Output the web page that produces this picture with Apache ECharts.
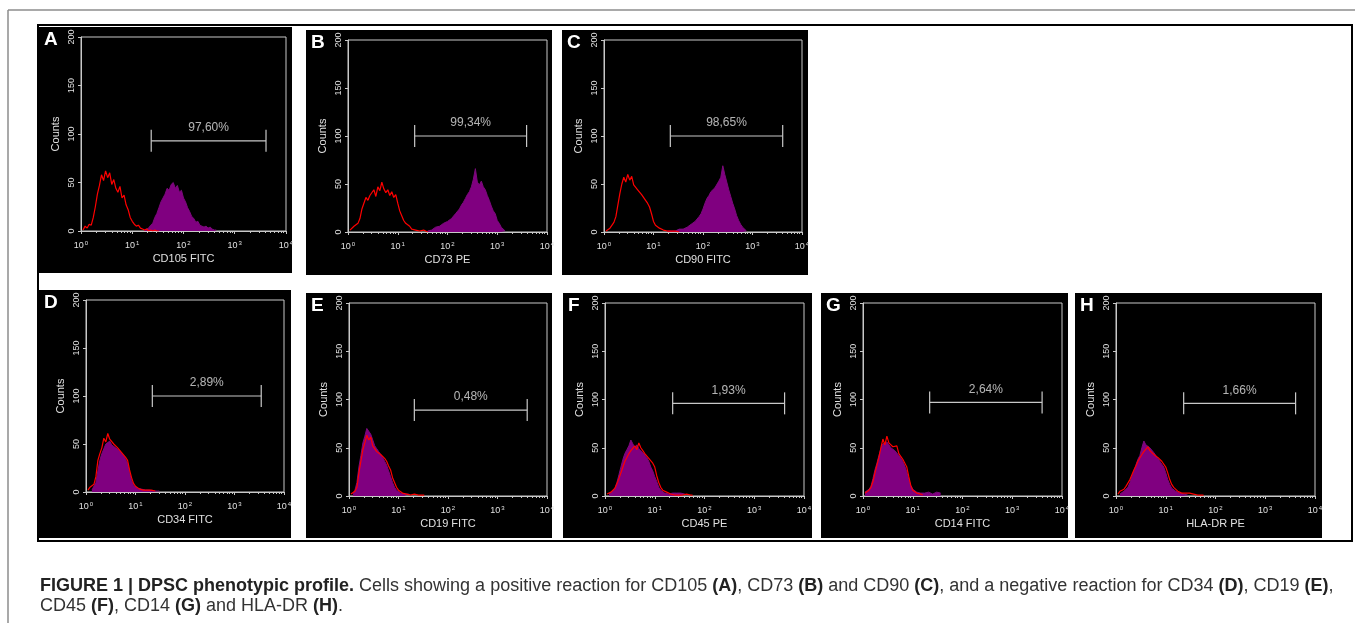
<!DOCTYPE html>
<html>
<head>
<meta charset="utf-8">
<title>DPSC phenotypic profile</title>
<script src="https://cdn.jsdelivr.net/npm/echarts@6/dist/echarts.min.js"></script>
<style>
   html, body { margin: 0; padding: 0; background: #fff; }
   #chart { width: 1355px; height: 623px; }
</style>
</head>
<body>
<div id="chart"></div>
<script>
// histogram channels are 0.04 decade wide, "from" = log10 of first channel
var binStep = 0.04;

var panelLetters = ["A", "B", "C", "D", "E", "F", "G", "H"];
var markerNames = ["CD105 FITC", "CD73 PE", "CD90 FITC", "CD34 FITC", "CD19 FITC", "CD45 PE", "CD14 FITC", "HLA-DR PE"];
var gateLabels = ["97,60%", "99,34%", "98,65%", "2,89%", "0,48%", "1,93%", "2,64%", "1,66%"];
var gateFrom = [1.37, 1.34, 1.34, 1.34, 1.32, 1.36, 1.34, 1.36];   // log10
var gateTo = [3.61, 3.59, 3.61, 3.54, 3.60, 3.61, 3.60, 3.61];     // log10
var gateLevel = [93, 100, 100, 100, 89, 96, 97, 96];                // counts

// isotype control (red outline)
var redA = {from: 0.04, counts: [1, 5, 3, 7, 6, 14, 25, 38, 47, 58, 52, 62, 55, 60, 48, 53, 44, 40, 46, 34, 37, 27, 22, 14, 10, 7, 5, 6, 3, 2, 1, 2, 0, 1, 0, 1, 0, 0]};
var redB = {from: 0.04, counts: [2, 3, 6, 5, 9, 14, 24, 30, 36, 33, 38, 40, 44, 37, 47, 43, 52, 45, 41, 44, 38, 42, 36, 39, 30, 22, 17, 12, 9, 7, 6, 3, 4, 2, 3, 1, 3, 2, 1, 0]};
var redC = {from: 0.04, counts: [1, 3, 4, 6, 10, 16, 28, 40, 50, 57, 52, 60, 54, 58, 49, 51, 44, 46, 39, 41, 33, 30, 26, 19, 11, 7, 5, 4, 3, 2, 2, 1, 2, 1, 0, 1, 1, 0]};
var redD = {from: 0.04, counts: [2, 5, 4, 8, 16, 33, 40, 46, 56, 52, 61, 55, 57, 50, 52, 46, 48, 41, 43, 36, 33, 23, 15, 9, 6, 5, 3, 4, 2, 1, 2, 1, 2, 3, 1]};
var redE = {from: 0.04, counts: [2, 3, 5, 9, 24, 36, 48, 55, 63, 58, 61, 52, 50, 46, 48, 43, 45, 39, 36, 31, 27, 19, 14, 9, 6, 4, 3, 3, 2, 3, 1, 2, 2, 1, 1, 0, 1, 1]};
var redF = {from: 0.04, counts: [2, 3, 4, 6, 8, 13, 18, 24, 30, 36, 40, 44, 47, 45, 52, 48, 55, 50, 47, 44, 42, 39, 41, 34, 30, 21, 14, 9, 6, 5, 4, 3, 2, 2, 1, 2, 1, 2, 1, 2, 2, 1, 1, 1]};
var redG = {from: 0.04, counts: [3, 4, 6, 9, 15, 24, 32, 40, 50, 59, 53, 62, 55, 57, 51, 49, 52, 44, 43, 38, 40, 30, 20, 11, 6, 4, 3, 2, 2, 1]};
var redH = {from: 0.04, counts: [2, 5, 4, 7, 10, 12, 17, 22, 27, 31, 36, 34, 43, 46, 44, 51, 47, 49, 43, 45, 40, 42, 36, 38, 30, 24, 17, 12, 9, 7, 5, 4, 3, 4, 3, 2, 3, 3, 2, 1, 1, 2, 1, 1]};

// stained sample (purple fill)
var purpleA = {from: 1.24, counts: [1, 2, 3, 6, 8, 14, 18, 24, 30, 34, 38, 44, 42, 48, 50, 44, 47, 40, 42, 34, 30, 24, 20, 15, 13, 9, 10, 6, 5, 4, 5, 3, 4, 2, 1, 1]};
var purpleB = {from: 1.60, counts: [1, 3, 2, 4, 5, 4, 6, 7, 9, 8, 11, 10, 14, 16, 19, 21, 24, 28, 31, 35, 39, 42, 47, 55, 66, 52, 49, 53, 47, 44, 38, 33, 27, 22, 19, 12, 9, 5, 3, 1]};
var purpleC = {from: 1.28, counts: [1, 2, 1, 2, 1, 2, 3, 2, 3, 4, 5, 6, 8, 9, 11, 13, 16, 19, 24, 30, 35, 38, 42, 40, 46, 48, 53, 57, 69, 60, 52, 44, 37, 30, 24, 17, 12, 8, 5, 3, 1]};
var purpleD = {from: 0.12, counts: [2, 4, 10, 22, 33, 40, 45, 50, 48, 53, 49, 51, 46, 48, 43, 41, 38, 40, 30, 20, 12, 7, 5, 4, 3, 3, 2, 2, 1, 2, 2, 1, 2, 1, 1]};
var purpleE = {from: 0.08, counts: [2, 6, 14, 30, 42, 55, 62, 70, 72, 64, 58, 52, 49, 46, 44, 40, 36, 32, 26, 20, 14, 9, 6, 4, 3, 2, 2, 1, 2, 1]};
var purpleF = {from: 0.08, counts: [2, 3, 5, 8, 14, 22, 30, 38, 44, 48, 52, 58, 54, 50, 53, 49, 47, 45, 44, 40, 36, 30, 26, 20, 15, 9, 6, 4, 3, 3, 2, 2, 3, 2, 3, 2, 3, 1, 2, 1]};
var purpleG = {from: 0.04, counts: [4, 5, 7, 10, 18, 27, 34, 42, 49, 54, 52, 56, 53, 50, 49, 47, 45, 42, 40, 36, 31, 25, 17, 11, 7, 5, 4, 3, 3, 4, 3, 2, 4, 3, 2, 3, 4, 2, 3]};
var purpleH = {from: 0.08, counts: [2, 3, 5, 7, 9, 14, 20, 26, 32, 38, 42, 50, 57, 53, 55, 50, 48, 45, 42, 39, 37, 33, 30, 24, 17, 12, 8, 6, 5, 4, 3, 3, 2, 2, 1]};

var redSets = [redA, redB, redC, redD, redE, redF, redG, redH];
var purpleSets = [purpleA, purpleB, purpleC, purpleD, purpleE, purpleF, purpleG, purpleH];

// layout: black panel boxes and plot areas, [x, y, w, h]
var boxes = [
   [39, 27, 253, 246], [306, 30, 246, 245], [562, 30, 246, 245],
   [39, 290, 252, 248], [306, 293, 246, 245], [563, 293, 249, 245], [821, 293, 247, 245], [1075, 293, 247, 245]
];
var plots = [
   [81, 37, 205, 194], [348, 40, 199, 192], [604, 40, 198, 192],
   [86, 300, 198, 192], [349, 303, 198, 193], [605, 303, 199, 193], [863, 303, 199, 193], [1116, 303, 199, 193]
];

var axisGray = "#c8c8c8";
var textGray = "#e0e0e0";
var font = "Liberation Sans, Arial, sans-serif";

function toPoints(h) {
   return h.counts.map(function (c, i) {
      return [Math.pow(10, h.from + i * binStep), c];
   });
}

var chart = echarts.init(document.getElementById("chart"), null, {renderer: "canvas"});

var graphic = [];
// page rule and figure frame
graphic.push({type: "line", shape: {x1: 8, y1: 10, x2: 1355, y2: 10}, style: {stroke: "#8c8c8c", lineWidth: 1.5}, z: 0});
graphic.push({type: "line", shape: {x1: 8, y1: 10, x2: 8, y2: 623}, style: {stroke: "#8c8c8c", lineWidth: 1.5}, z: 0});
graphic.push({type: "rect", shape: {x: 38, y: 25, width: 1314, height: 516}, style: {fill: null, stroke: "#000", lineWidth: 2}, z: 0});

var grid = [], xAxis = [], yAxis = [], series = [];

panelLetters.forEach(function (letter, i) {
   var b = boxes[i], p = plots[i];
   graphic.push({type: "rect", shape: {x: b[0], y: b[1], width: b[2], height: b[3]}, style: {fill: "#000"}, z: -10, silent: true});
   graphic.push({type: "text", left: b[0] + 5, top: b[1] + 3, z: 10,
      style: {text: letter, fill: "#fff", font: "bold 19px " + font}});

   grid.push({left: p[0], top: p[1], width: p[2], height: p[3], show: true,
      borderColor: axisGray, borderWidth: 1, backgroundColor: "transparent"});

   xAxis.push({
      gridIndex: i, type: "log", logBase: 10, min: 1, max: 10000,
      name: markerNames[i], nameLocation: "middle", nameGap: 22,
      nameTextStyle: {color: textGray, fontSize: 11, fontFamily: font},
      axisLine: {lineStyle: {color: axisGray, width: 1}},
      axisTick: {show: true, length: 3, lineStyle: {color: axisGray}},
      minorTick: {show: true, splitNumber: 9, length: 2, lineStyle: {color: axisGray}},
      splitLine: {show: false},
      axisLabel: {
         color: textGray, fontSize: 9, fontFamily: font, margin: 9,
         formatter: function (v) {
            return "10{s|" + Math.round(Math.log(v) / Math.LN10) + "}";
         },
         rich: {s: {fontSize: 6, color: textGray, fontFamily: font, verticalAlign: "top", padding: [0, 0, 6, 1]}}
      }
   });

   yAxis.push({
      gridIndex: i, type: "value", min: 0, max: 200, interval: 50,
      name: "Counts", nameLocation: "middle", nameGap: 20, nameRotate: 90,
      nameTextStyle: {color: textGray, fontSize: 11, fontFamily: font},
      axisLine: {show: true, lineStyle: {color: axisGray, width: 1}},
      axisTick: {show: true, length: 3, lineStyle: {color: axisGray}},
      splitLine: {show: false},
      axisLabel: {color: textGray, fontSize: 9, fontFamily: font, rotate: 90, margin: 5}
   });

   series.push({
      type: "line", xAxisIndex: i, yAxisIndex: i,
      data: toPoints(purpleSets[i]), showSymbol: false, symbol: "none",
      lineStyle: {color: "#7a0a7a", width: 1},
      areaStyle: {color: "#800080", opacity: 1},
      z: 2
   });
   series.push({
      type: "line", xAxisIndex: i, yAxisIndex: i,
      data: toPoints(redSets[i]), showSymbol: false, symbol: "none",
      lineStyle: {color: "#ff0000", width: 1.2},
      z: 3
   });
   // gate marker with end caps
   series.push({
      type: "line", xAxisIndex: i, yAxisIndex: i,
      data: [[Math.pow(10, gateFrom[i]), gateLevel[i]], [Math.pow(10, gateTo[i]), gateLevel[i]]],
      symbol: "rect", symbolSize: [1.2, 22], showSymbol: true,
      itemStyle: {color: axisGray}, lineStyle: {color: axisGray, width: 1.2},
      z: 4
   });
   series.push({
      type: "scatter", xAxisIndex: i, yAxisIndex: i,
      data: [[Math.pow(10, (gateFrom[i] + gateTo[i]) / 2), gateLevel[i]]],
      symbolSize: 0,
      label: {show: true, position: "top", distance: 7, formatter: gateLabels[i],
         color: textGray, fontSize: 12, fontFamily: font},
      z: 5
   });
});

// caption
var captionRich = {b: {fontWeight: "bold", fontSize: 18, fontFamily: font, fill: "#222"}};
graphic.push({type: "text", left: 40, top: 577, z: 10, style: {
   text: "{b|FIGURE 1 | DPSC phenotypic profile.} Cells showing a positive reaction for CD105 {b|(A)}, CD73 {b|(B)} and CD90 {b|(C)}, and a negative reaction for CD34 {b|(D)}, CD19 {b|(E)},",
   fill: "#333", fontSize: 18, fontFamily: font, rich: captionRich
}});
graphic.push({type: "text", left: 40, top: 597, z: 10, style: {
   text: "CD45 {b|(F)}, CD14 {b|(G)} and HLA-DR {b|(H)}.",
   fill: "#333", fontSize: 18, fontFamily: font, rich: captionRich
}});

chart.setOption({
   animation: false,
   backgroundColor: "#fff",
   graphic: graphic,
   grid: grid,
   xAxis: xAxis,
   yAxis: yAxis,
   series: series
});
</script>
</body>
</html>
